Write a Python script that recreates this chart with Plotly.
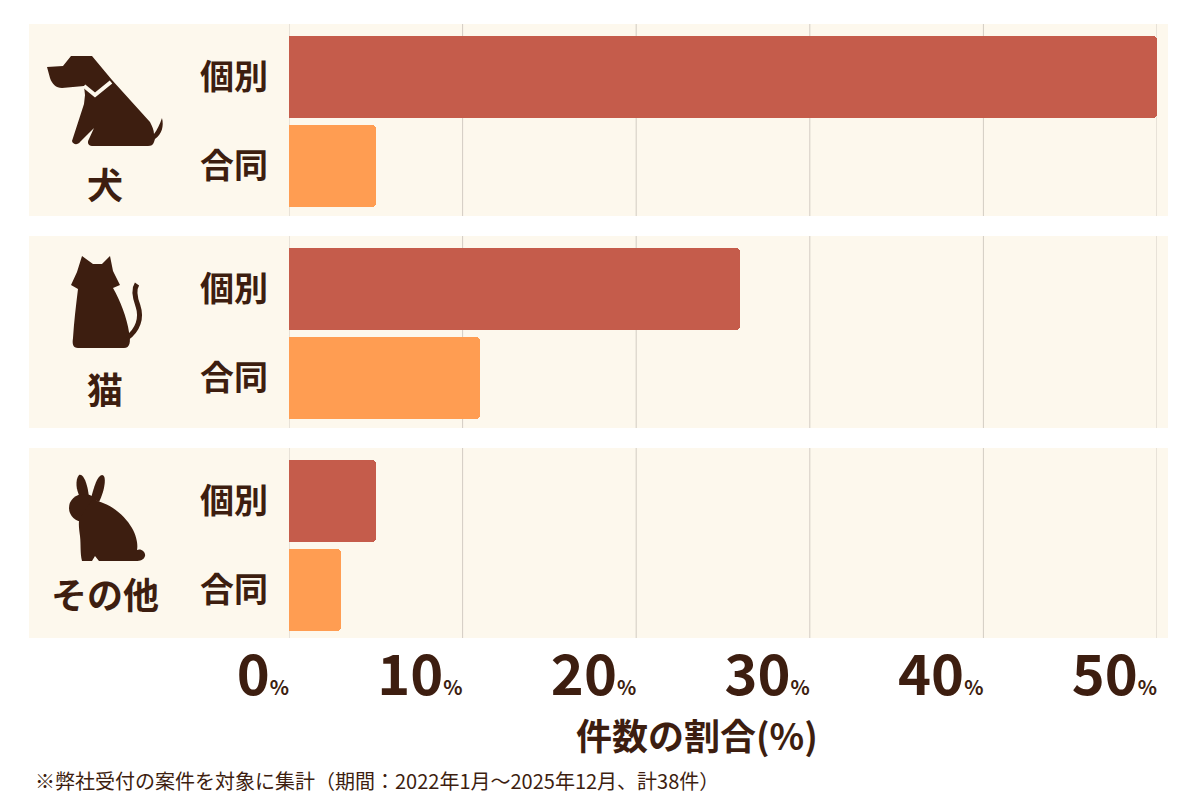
import plotly.graph_objects as go

# 件数の割合 (%)
groups = ["犬", "猫", "その他"]
kinds = ["個別", "合同"]
kobetsu = [50, 26, 5]
goudou = [5, 11, 3]
x_ticks = [0, 10, 20, 30, 40, 50]

W, H = 1200, 800
OFF = 8  # page body margin, positions below are in screen pixels
FONT = "Noto Sans CJK JP"
TXT = "#3d1e10"
RED = "#c55c4b"
ORANGE = "#ff9d52"
PANEL = "#fdf8ed"
GRID = "#d3ccc3"

panel_top = [24, 236, 448]
panel_h = 192
row_y = lambda g, s: panel_top[g] + 53 + 89 * s

px = lambda x: (x - OFF) / W
py = lambda y: 1 - (y - OFF) / H

def px_path(d):
    out = []
    for tok in d.split():
        if "," in tok:
            x, y = tok.split(",")
            out.append(f"{px(float(x)):.5f},{y}")
        else:
            out.append(tok)
    return " ".join(out)

fig = go.Figure()
for s, (name, vals, col) in enumerate([(kinds[0], kobetsu, RED), (kinds[1], goudou, ORANGE)]):
    fig.add_trace(go.Bar(
        x=vals, y=[row_y(g, s) for g in range(len(groups))],
        orientation="h", width=82, name=name,
        marker=dict(color=col, line=dict(width=0), cornerradius=4),
        hoverinfo="x", showlegend=False))

shapes = []
for g in range(len(groups)):
    t = panel_top[g]
    shapes.append(dict(type="rect", xref="paper", yref="y", x0=px(29), x1=px(1168),
                       y0=t, y1=t + panel_h, fillcolor=PANEL, line_width=0, layer="below"))
    for v in x_ticks:
        shapes.append(dict(type="line", xref="x", yref="y", x0=v, x1=v, y0=t, y1=t + panel_h,
                           line=dict(color=GRID, width=1), layer="below"))

icon = dict(xref="paper", yref="y", fillcolor=TXT, line_width=0, layer="above")
# dog
shapes.append(dict(type="path", path=px_path(
    "M 47,67 L 63,66 L 71,56 L 92,56 L 112,80 L 150,122 C 152,126 154,130 154,134 "
    "C 157,130 160,124 162,118 C 164,126 162,134 155,139 L 154,142 "
    "C 153,145 151,146 148,146 L 92,146 C 88,146 87,142 89,139 L 94,128 L 80,142 "
    "C 78,145 73,145 72,141 L 84,104 L 85,95 L 84,86 L 62,88 C 56,88 52,84 50,78 Z"), **icon))
shapes.append(dict(type="path", path=px_path("M 84,86 L 95,95 L 111,82"),
                   xref="paper", yref="y", line=dict(color=PANEL, width=4), layer="above"))
# cat
shapes.append(dict(type="path", path=px_path(
    "M 82,256 L 93,264 L 102,264 L 110,256 L 113,271 L 120,285 L 113,288 "
    "C 120,300 127,318 129,332 C 131,342 130,348 124,348 L 78,348 "
    "C 73,348 72,344 73,338 C 74,322 76,305 78,289 L 71,285 L 77,272 Z"), **icon))
shapes.append(dict(type="path", path=px_path(
    "M 127,338 C 138,330 142,318 138,306 C 135,298 133,290 137,284"),
    xref="paper", yref="y", line=dict(color=TXT, width=5), layer="above"))
# rabbit
shapes.append(dict(type="path", path=px_path(
    "M 80,497 C 76,490 75,480 79,475 C 84,473 88,486 89,498 Z"), **icon))
shapes.append(dict(type="path", path=px_path(
    "M 91,498 C 94,487 97,476 102,475 C 107,475 105,490 99,502 Z"), **icon))
shapes.append(dict(type="circle", x0=px(69), x1=px(99), y0=494, y1=522, **icon))
shapes.append(dict(type="path", path=px_path(
    "M 92,500 C 108,502 124,514 132,528 C 137,537 138,545 137,550 "
    "C 141,548 146,552 145,556 C 144,560 140,561 136,561 L 99,561 L 95,556 L 92,561 "
    "L 82,561 C 80,553 81,545 80,536 C 79,528 78,522 80,518 Z"), **icon))

annotations = []
label_y = [183, 388, 593]
for g, name in enumerate(groups):
    annotations.append(dict(text=name, xref="paper", yref="y", x=px(105), y=label_y[g],
                            xanchor="center", yanchor="middle", showarrow=False,
                            font=dict(family=FONT, size=36, color=TXT, weight="bold")))
annotations.append(dict(text="件数の割合(%)", xref="paper", yref="paper", x=px(697), y=py(734),
                        xanchor="center", yanchor="middle", showarrow=False,
                        font=dict(family=FONT, size=36, color=TXT, weight="bold")))
annotations.append(dict(text="※弊社受付の案件を対象に集計（期間：2022年1月～2025年12月、計38件）",
                        xref="paper", yref="paper", x=px(33), y=py(780),
                        xanchor="left", yanchor="middle", showarrow=False,
                        font=dict(family=FONT, size=20, color=TXT)))

fig.update_layout(
    width=W, height=H, margin=dict(l=0, r=0, t=0, b=0),
    paper_bgcolor="white", plot_bgcolor="rgba(0,0,0,0)",
    bargap=0, shapes=shapes, annotations=annotations,
    font=dict(family=FONT, color=TXT),
)
fig.update_xaxes(
    domain=[px(289), px(1157)], range=[0, 50], automargin=False,
    showgrid=False, zeroline=False, showline=False, ticks="",
    tickvals=x_ticks,
    ticktext=[f"{v}<span style='font-size:20px'>%</span>" for v in x_ticks],
    ticklabelposition="outside left", ticklabelstandoff=0,
    tickfont=dict(family=FONT, size=56, color=TXT, weight="bold"),
)
fig.update_yaxes(
    domain=[py(638), py(24)], range=[638, 24], automargin=False,
    showgrid=False, zeroline=False, showline=False, ticks="",
    tickvals=[row_y(g, s) for g in range(len(groups)) for s in range(2)],
    ticktext=[k for g in range(len(groups)) for k in kinds],
    ticklabelstandoff=20,
    tickfont=dict(family=FONT, size=34, color=TXT, weight="bold"),
)

fig.write_html("out.html")
